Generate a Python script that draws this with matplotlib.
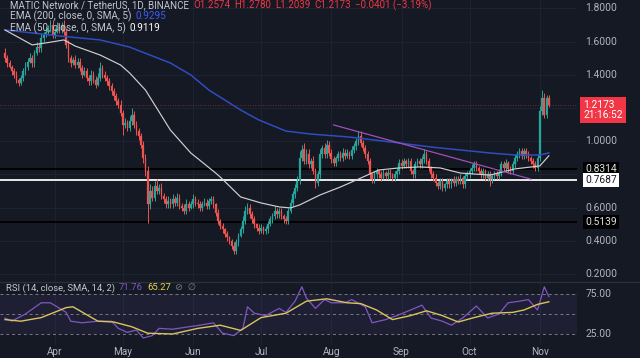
import matplotlib
matplotlib.use('Agg')
import matplotlib.pyplot as plt
import matplotlib.transforms as mtransforms
import datetime as dt

# ---------------- data ----------------
start_date = dt.date(2022, 3, 10)
first_open = 1.53
closes = [
    1.50, 1.47, 1.45, 1.42, 1.40, 1.37, 1.35, 1.38, 1.42, 1.45,
    1.48, 1.50, 1.47, 1.53, 1.57, 1.56, 1.62, 1.64, 1.66, 1.68,
    1.70, 1.64, 1.66, 1.69, 1.67, 1.70, 1.66, 1.58, 1.50, 1.47,
    1.49, 1.46, 1.48, 1.44, 1.40, 1.42, 1.38, 1.36, 1.40, 1.37,
    1.34, 1.38, 1.44, 1.40, 1.38, 1.36, 1.33, 1.30, 1.27, 1.24,
    1.22, 1.17, 1.10, 1.11, 1.08, 1.12, 1.16, 1.10, 1.06, 1.03,
    0.98, 0.90, 0.82, 0.62, 0.70, 0.66, 0.73, 0.70, 0.72, 0.67,
    0.65, 0.62, 0.64, 0.62, 0.65, 0.63, 0.66, 0.61, 0.60, 0.58,
    0.62, 0.60, 0.62, 0.65, 0.63, 0.62, 0.60, 0.62, 0.63, 0.61,
    0.64, 0.65, 0.62, 0.57, 0.52, 0.49, 0.47, 0.44, 0.42, 0.40,
    0.37, 0.34, 0.39, 0.43, 0.47, 0.52, 0.58, 0.60, 0.56, 0.53,
    0.50, 0.48, 0.46, 0.48, 0.46, 0.47, 0.50, 0.53, 0.55, 0.58,
    0.56, 0.58, 0.55, 0.53, 0.52, 0.58, 0.63, 0.68, 0.72, 0.76,
    0.90, 0.95, 0.88, 0.92, 0.86, 0.88, 0.82, 0.75, 0.80, 0.92,
    0.96, 0.92, 0.98, 0.93, 0.89, 0.87, 0.90, 0.92, 0.90, 0.93,
    0.91, 0.93, 0.91, 0.95, 0.97, 1.00, 1.03, 0.99, 0.96, 0.92,
    0.88, 0.80, 0.77, 0.80, 0.82, 0.80, 0.78, 0.81, 0.79, 0.81,
    0.80, 0.78, 0.80, 0.82, 0.87, 0.85, 0.88, 0.86, 0.88, 0.82,
    0.80, 0.86, 0.88, 0.86, 0.89, 0.92, 0.88, 0.84, 0.80, 0.78,
    0.75, 0.73, 0.76, 0.72, 0.74, 0.76, 0.74, 0.77, 0.75, 0.77,
    0.76, 0.78, 0.74, 0.79, 0.80, 0.82, 0.84, 0.86, 0.84, 0.82,
    0.80, 0.82, 0.78, 0.80, 0.77, 0.79, 0.80, 0.79, 0.81, 0.86,
    0.84, 0.87, 0.83, 0.82, 0.86, 0.90, 0.92, 0.94, 0.91, 0.94,
    0.92, 0.90, 0.88, 0.86, 0.84, 0.90, 1.18, 1.26, 1.16, 1.2574,
    1.2173,
]
# wick lengths in cents
wick_up = [
    3, 2, 2, 1, 2, 2, 1, 2, 2, 3,
    2, 3, 2, 2, 3, 2, 3, 2, 3, 2,
    3, 3, 2, 3, 2, 2, 3, 2, 3, 2,
    2, 3, 2, 2, 2, 3, 2, 2, 3, 2,
    2, 3, 4, 2, 2, 2, 2, 2, 2, 2,
    2, 3, 2, 3, 2, 3, 4, 2, 2, 2,
    2, 2, 2, 3, 4, 3, 3, 4, 2, 3,
    2, 2, 3, 2, 3, 2, 3, 2, 2, 2,
    3, 2, 2, 3, 2, 2, 2, 2, 3, 2,
    2, 2, 2, 1, 2, 1, 2, 1, 2, 1,
    1, 2, 2, 2, 2, 3, 3, 3, 2, 2,
    2, 1, 2, 2, 1, 2, 2, 2, 2, 3,
    2, 2, 2, 1, 2, 2, 2, 2, 2, 3,
    4, 3, 4, 3, 3, 2, 3, 2, 2, 3,
    2, 3, 3, 2, 2, 2, 1, 2, 2, 3,
    2, 2, 1, 2, 2, 2, 3, 3, 2, 2,
    2, 2, 1, 2, 2, 1, 2, 2, 1, 2,
    2, 1, 2, 2, 2, 2, 2, 1, 2, 2,
    1, 2, 2, 2, 2, 3, 2, 2, 1, 2,
    2, 1, 2, 2, 1, 2, 2, 1, 2, 2,
    2, 2, 1, 2, 2, 2, 2, 2, 2, 1,
    2, 2, 1, 2, 2, 1, 2, 2, 2, 2,
    2, 2, 1, 2, 2, 2, 2, 2, 2, 2,
    2, 2, 1, 2, 2, 2, 3, 5, 3, 2,
    2,
]
wick_down = [
    2, 2, 1, 2, 2, 2, 2, 1, 2, 2,
    2, 1, 2, 2, 1, 2, 2, 2, 1, 2,
    2, 2, 2, 1, 2, 2, 2, 2, 2, 2,
    1, 2, 2, 2, 2, 1, 2, 2, 2, 2,
    2, 1, 2, 2, 2, 2, 2, 2, 2, 2,
    2, 2, 6, 2, 2, 2, 2, 2, 2, 2,
    2, 3, 3, 11, 3, 2, 2, 2, 2, 2,
    2, 2, 2, 2, 2, 2, 2, 2, 2, 2,
    2, 2, 1, 2, 2, 2, 2, 2, 1, 2,
    2, 2, 2, 2, 2, 2, 2, 2, 2, 2,
    2, 2, 2, 2, 1, 2, 2, 2, 2, 2,
    2, 2, 2, 1, 2, 2, 2, 1, 2, 2,
    2, 2, 2, 2, 2, 2, 1, 2, 2, 2,
    2, 2, 2, 2, 2, 2, 2, 3, 2, 2,
    2, 2, 2, 2, 2, 2, 2, 2, 2, 2,
    2, 1, 2, 2, 2, 2, 2, 2, 2, 2,
    2, 3, 2, 2, 2, 2, 2, 1, 2, 2,
    2, 2, 2, 2, 2, 2, 1, 2, 2, 2,
    2, 2, 1, 2, 2, 2, 2, 2, 2, 2,
    2, 2, 2, 2, 2, 2, 2, 2, 2, 2,
    2, 2, 2, 2, 2, 2, 2, 2, 2, 2,
    2, 2, 2, 2, 4, 2, 2, 2, 2, 2,
    2, 2, 2, 2, 2, 2, 2, 2, 2, 2,
    2, 2, 2, 2, 2, 2, 2, 2, 2, 2,
    1,
]

ema200_idx = [0, 24, 42, 55, 64, 73, 82, 90, 104, 112, 124, 135, 152, 174, 188, 201, 214, 225, 236, 240]
ema200_val = [1.670, 1.634, 1.610, 1.567, 1.519, 1.471, 1.399, 1.308, 1.188, 1.128,
              1.061, 1.043, 1.025, 0.989, 0.965, 0.947, 0.929, 0.917, 0.917, 0.9295]

ema50_idx = [0, 12, 18, 26, 31, 42, 51, 55, 62, 73, 82, 93, 95, 104, 113, 121, 126, 130,
             139, 148, 157, 165, 174, 183, 192, 201, 214, 225, 236, 240]
ema50_val = [1.670, 1.580, 1.592, 1.610, 1.573, 1.519, 1.459, 1.411, 1.308, 1.067, 0.929,
             0.808, 0.784, 0.664, 0.628, 0.604, 0.598, 0.616, 0.676, 0.724, 0.778, 0.827,
             0.839, 0.845, 0.839, 0.808, 0.796, 0.833, 0.851, 0.9119]

rsi_idx = [0, 3, 9, 16, 20, 23, 27, 29, 34, 41, 47, 50, 54, 58, 61, 65, 68, 74, 81, 86,
           92, 96, 101, 105, 107, 110, 115, 121, 124, 128, 131, 133, 137, 141, 144, 150,
           153, 159, 162, 168, 173, 179, 184, 188, 193, 197, 202, 208, 213, 218, 222, 227,
           231, 235, 238, 240]
rsi_val = [45, 41, 50, 64, 64, 59, 52, 41, 39, 41, 41, 32, 27, 30, 20, 23, 32, 31, 34, 36,
           39, 26, 23, 32, 59, 51, 48, 57, 52, 66, 84, 70, 57, 68, 64, 64,
           68, 59, 39, 43, 48, 55, 61, 45, 41, 36, 45, 60, 45, 50, 64, 66,
           68, 55, 84, 71.76]

rsi_sma_idx = [0, 7, 16, 27, 30, 41, 48, 56, 63, 74, 85, 95, 104, 113, 124, 133, 142, 151,
               157, 164, 171, 179, 186, 193, 200, 207, 215, 224, 229, 235, 240]
rsi_sma_val = [43, 41, 45.5, 58, 59, 41, 40, 34, 26, 25, 32, 36, 29.5, 45.5, 51, 66, 69, 64,
               63, 55, 43, 48, 54, 48, 40, 45.5, 51, 52, 55, 62, 65.27]

month_labels = ['Apr', 'May', 'Jun', 'Jul', 'Aug', 'Sep', 'Oct', 'Nov']
month_dates = [dt.date(2022, m, 1) for m in range(4, 12)]
price_ticks = [0.2, 0.4, 0.6, 1.0, 1.4, 1.6, 1.8]
level_black = [0.8314, 0.5139]
level_white = 0.7687
last_price = 1.2173
countdown = '21:16:52'
trend_idx = [145, 232]
trend_val = [1.098, 0.772]
ohlc_text = ['1.2574', '1.2780', '1.2039', '1.2173']
change_text = '\u22120.0401 (\u22123.19%)'

# ---------------- style ----------------
BG = '#151924'
GRID = '#1d2230'
UP = '#26a69a'
DOWN = '#ef5350'
TXT = '#b2b5be'
FONT = 'Roboto'
plt.rcParams['font.family'] = [FONT, 'DejaVu Sans']

W, H = 640, 358
fig = plt.figure(figsize=(W / 100, H / 100), dpi=100, facecolor=BG)

def fx(px):
    return px / W

def fy(py):
    return 1 - py / H

main_top, main_bot = 0, 281
rsi_top, rsi_bot = 283, 345
plot_right = 577
ax = fig.add_axes([0, fy(main_bot), fx(plot_right), (main_bot - main_top) / H])
axr = fig.add_axes([0, fy(rsi_bot), fx(plot_right), (rsi_bot - rsi_top) / H], sharex=ax)
for a in (ax, axr):
    a.set_facecolor(BG)
    for s in a.spines.values():
        s.set_visible(False)
    a.tick_params(left=False, bottom=False, labelleft=False, labelbottom=False)

n = len(closes)
opens = [first_open] + closes[:-1]
month_idx = [(d - start_date).days for d in month_dates]

# grid
for mi in month_idx:
    ax.axvline(mi, color=GRID, lw=0.8, zorder=0)
    axr.axvline(mi, color=GRID, lw=0.8, zorder=0)
for p in price_ticks + [0.8, 1.2]:
    ax.axhline(p, color=GRID, lw=0.8, zorder=0)

# candles
for i in range(n):
    o, c = opens[i], closes[i]
    col = UP if c >= o else DOWN
    hi = max(o, c) + wick_up[i] / 100
    lo = min(o, c) - wick_down[i] / 100
    ax.vlines(i, lo, hi, color=col, lw=0.7, zorder=3)
    ax.bar(i, max(abs(c - o), 0.003), bottom=min(o, c), width=0.72, color=col,
           edgecolor=col, linewidth=0.2, zorder=4)

# levels
for lv in level_black:
    ax.axhline(lv, color='#000000', lw=1.3, zorder=2)
ax.axhline(level_white, color='#e8e8e8', lw=1.4, zorder=2)
ax.axhline(last_price, color='#f23645', lw=0.6, ls=(0, (1, 2)), alpha=0.6, zorder=2)

# EMAs and trend line
ax.plot(ema200_idx, ema200_val, color='#2f4cc0', lw=1.1, zorder=5)
ax.plot(ema50_idx, ema50_val, color='#d0d0d0', lw=0.85, zorder=5)
ax.plot(trend_idx, trend_val, color='#a04fb8', lw=0.9, zorder=5)

x_left = -5 / 2.266
x_right = (plot_right - 5) / 2.266
ax.set_xlim(x_left, x_right)
ax.set_ylim(0.2 - (main_bot - 274) / 166, 0.2 + 274 / 166)

# price axis labels
LBL = 7.4
tr = mtransforms.blended_transform_factory(ax.transAxes, ax.transData)
for p in price_ticks:
    ax.text(1.014, p, f'{p:.4f}', transform=tr, color=TXT, fontsize=LBL,
            va='center', ha='left', clip_on=False)
for lv in level_black:
    ax.text(1.014, lv, f'{lv:.4f}', transform=tr, color='#e0e0e0', fontsize=LBL,
            va='center', ha='left', clip_on=False,
            bbox=dict(boxstyle='square,pad=0.2', fc='#000000', ec='none'))
ax.text(1.014, level_white, f'{level_white:.4f}', transform=tr, color='#131722',
        fontsize=LBL, va='center', ha='left', clip_on=False,
        bbox=dict(boxstyle='square,pad=0.2', fc='#ffffff', ec='none'))
ax.annotate(f'{last_price:.4f}\n{countdown}', xy=(1.0, last_price), xycoords=tr,
            xytext=(6, -5), textcoords='offset pixels', color='white', fontsize=LBL,
            va='center', ha='left', linespacing=1.05, annotation_clip=False,
            bbox=dict(boxstyle='square,pad=0.3', fc='#f23645', ec='none'))

# RSI pane
r75, r25 = 294, 334
px_per = (r25 - r75) / 50
axr.axhspan(25, 75, color='#7e57c2', alpha=0.10, lw=0, zorder=0)
for v in (75, 50, 25):
    axr.axhline(v, color='#787b86', lw=0.7, ls=(0, (3, 3)), zorder=1)
axr.plot(rsi_idx, rsi_val, color='#7e57c2', lw=0.9, zorder=3)
axr.plot(rsi_sma_idx, rsi_sma_val, color='#d9c45e', lw=1.0, zorder=4)
axr.set_ylim(25 - (rsi_bot - r25) / px_per, 75 + (r75 - rsi_top) / px_per)
trr = mtransforms.blended_transform_factory(axr.transAxes, axr.transData)
for v in (75, 25):
    axr.text(1.014, v, f'{v:.2f}', transform=trr, color=TXT, fontsize=LBL,
             va='center', ha='left', clip_on=False)
trx = mtransforms.blended_transform_factory(axr.transData, fig.transFigure)
for mi, lab in zip(month_idx, month_labels):
    axr.text(mi, fy(352), lab, transform=trx, color=TXT, fontsize=7.2,
             ha='center', va='center', clip_on=False)

# pane separator
fig.add_artist(plt.Line2D([0, 1], [fy(282), fy(282)], color='#2a2e39', lw=1.0))

# legends (sequential coloured pieces)
renderer = fig.canvas.get_renderer()

def pieces(x_px, y_px, parts, size=7.2):
    x = x_px
    for txt, col in parts:
        t = fig.text(fx(x), fy(y_px), txt, color=col, fontsize=size, va='center', ha='left')
        bb = t.get_window_extent(renderer=renderer)
        x += bb.width + 4

GR = '#c3c6ce'
pieces(10, 5.5, [('MATIC Network / TetherUS, 1D, BINANCE', GR),
                 ('O' + ohlc_text[0], '#f23645'), ('H' + ohlc_text[1], '#f23645'),
                 ('L' + ohlc_text[2], '#f23645'), ('C' + ohlc_text[3], '#f23645'),
                 (change_text, '#f23645')], size=7.0)
pieces(10, 16, [('EMA (200, close, 0, SMA, 5)', GR), ('0.9295', '#3d5afe')])
pieces(10, 28, [('EMA (50, close, 0, SMA, 5)', GR), ('0.9119', '#ffffff')])
pieces(6, 288, [('RSI (14, close, SMA, 14, 2)', GR), ('71.76', '#7e57c2'),
                ('65.27', '#e8d44d'), ('\u2298  \u2205', '#787b86')], size=6.8)

fig.savefig('out.png', dpi=100, facecolor=BG)
